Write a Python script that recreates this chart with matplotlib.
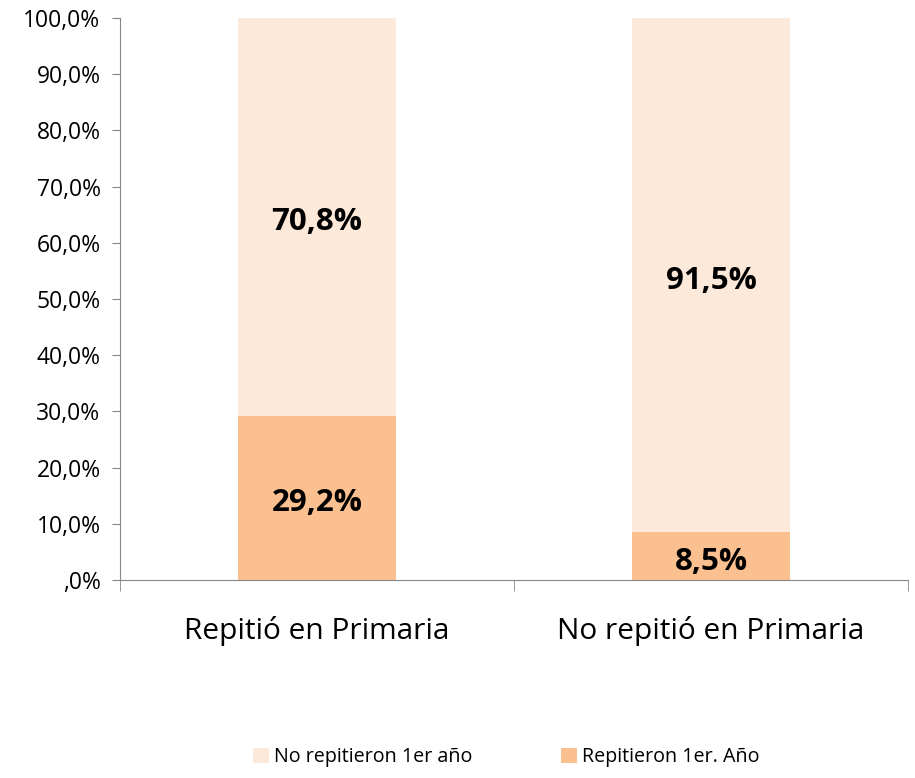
import numpy as np
import matplotlib.pyplot as plt
from matplotlib.ticker import FuncFormatter, FixedLocator

plt.rcParams['font.family'] = ['Open Sans', 'DejaVu Sans']

# data
categories = ['Repitió en Primaria', 'No repitió en Primaria']
repitieron = [29.2, 8.5]
no_repitieron = [70.8, 91.5]
series_names = ['No repitieron 1er año', 'Repitieron 1er. Año']

c_light = '#FDE9D9'
c_dark = '#FAC090'
axis_col = '#868686'

fig = plt.figure(figsize=(9.15, 7.78), dpi=100)
ax = fig.add_axes([0.1311, 0.2545, 0.8612, 0.7224])

x = np.arange(len(categories))
b1 = ax.bar(x, repitieron, width=0.4, color=c_dark, label=series_names[1], zorder=2)
b2 = ax.bar(x, no_repitieron, width=0.4, bottom=repitieron, color=c_light,
            label=series_names[0], zorder=2)

def pct(v):
    s = f'{v:.1f}'.replace('.', ',')
    return s + '%'

# value labels, centred in each segment (nudged down a little like the original)
for i in range(len(categories)):
    ax.annotate(pct(repitieron[i]), (x[i], repitieron[i] / 2),
                xytext=(0, -4), textcoords='offset points',
                ha='center', va='center', fontsize=22.5, fontweight='bold')
    ax.annotate(pct(no_repitieron[i]), (x[i], repitieron[i] + no_repitieron[i] / 2),
                xytext=(0, -4), textcoords='offset points',
                ha='center', va='center', fontsize=22.5, fontweight='bold')

ax.set_xlim(-0.5, 1.5)
ax.set_ylim(0, 100)
ax.set_yticks(np.arange(0, 101, 10))
ax.yaxis.set_major_formatter(FuncFormatter(lambda v, p: ',0%' if v == 0 else pct(v)))
ax.tick_params(axis='y', labelsize=16.5, length=6, color=axis_col, pad=8)

# category labels and boundary ticks
ax.set_xticks(x)
ax.set_xticklabels(categories, fontsize=21.5)
ax.tick_params(axis='x', length=0, pad=26)
ax.xaxis.set_minor_locator(FixedLocator([-0.5, 0.5, 1.5]))
ax.tick_params(axis='x', which='minor', length=8, color=axis_col)

for s in ['top', 'right']:
    ax.spines[s].set_visible(False)
for s in ['left', 'bottom']:
    ax.spines[s].set_color(axis_col)

handles = [b2, b1]
fig.legend(handles, series_names, loc='center', bbox_to_anchor=(0.553, 0.027),
           ncol=2, frameon=False, fontsize=14.2, handlelength=0.8, handleheight=0.8,
           columnspacing=4.5, handletextpad=0.25)

fig.savefig('out.png', dpi=100)
